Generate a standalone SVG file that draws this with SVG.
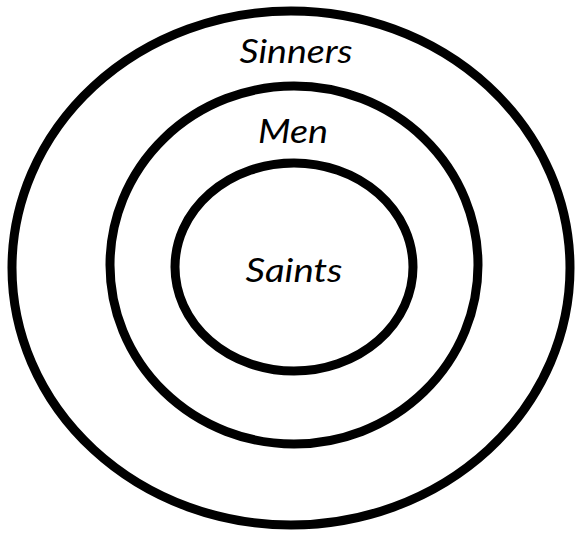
<svg xmlns="http://www.w3.org/2000/svg" width="578" height="533" viewBox="0 0 578 533">
  <style>
    .ring { fill: none; stroke: #000; stroke-width: 9; }
    .label { font-family: Lato, "Open Sans", "Liberation Sans", sans-serif; font-style: italic; font-size: 32px; fill: #000; text-anchor: middle; }
  </style>
  <rect width="578" height="533" fill="#fff"/>
  <g id="sinners">
    <ellipse class="ring" cx="291" cy="268" rx="279" ry="257"/>
    <text class="label" x="296" y="63" textLength="113" lengthAdjust="spacingAndGlyphs">Sinners</text>
  </g>
  <g id="men">
    <ellipse class="ring" cx="294" cy="265" rx="184" ry="179"/>
    <text class="label" x="293" y="143" textLength="70" lengthAdjust="spacingAndGlyphs">Men</text>
  </g>
  <g id="saints">
    <ellipse class="ring" cx="294" cy="267" rx="119" ry="104"/>
    <text class="label" x="294" y="282" textLength="97" lengthAdjust="spacingAndGlyphs">Saints</text>
  </g>
  <g id="connectors"/>
</svg>
